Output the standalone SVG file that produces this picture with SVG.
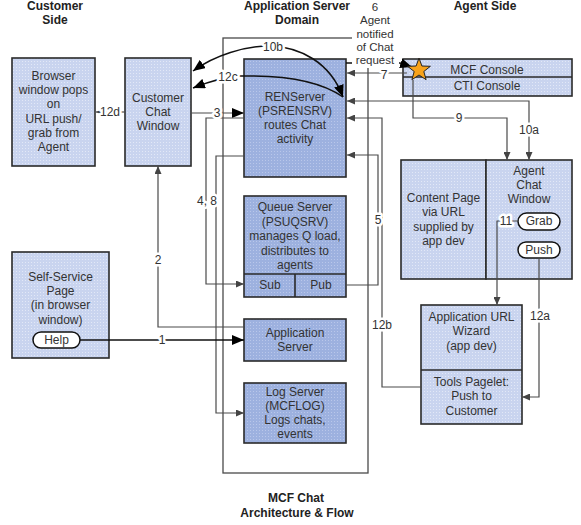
<svg xmlns="http://www.w3.org/2000/svg" width="581" height="525" viewBox="0 0 581 525">
<style>
text{font-family:"Liberation Sans",Arial,sans-serif;font-size:12px;fill:#333;text-anchor:middle}
.ttl{font-weight:bold;fill:#222}
.lt{fill:url(#pl);stroke:#2a2a2a;stroke-width:1.6}
.dk{fill:url(#pd);stroke:#2a2a2a;stroke-width:1.6}
.pill{fill:#fff;stroke:#111;stroke-width:1.5}
.ln{fill:none;stroke:#4a4a4a;stroke-width:1.2}
.bl{fill:none;stroke:#111;stroke-width:1.5}
.lab{stroke:#fff;stroke-width:5;stroke-linejoin:round;paint-order:stroke}
.frame{fill:none;stroke:#4a4a4a;stroke-width:1.3}
</style>
<defs>
<pattern id="pl" width="3" height="3" patternUnits="userSpaceOnUse"><rect width="3" height="3" fill="#c9d4ef"/><rect x="1" y="1" width="1" height="1" fill="#e2e8f7"/></pattern>
<pattern id="pd" width="3" height="3" patternUnits="userSpaceOnUse"><rect width="3" height="3" fill="#9db1df"/><rect x="1" y="1" width="1" height="1" fill="#b9c7ea"/></pattern>
<marker id="s" viewBox="0 0 8 7" refX="8" refY="3.5" markerWidth="8" markerHeight="7" orient="auto-start-reverse" markerUnits="userSpaceOnUse"><path d="M0,0 L8,3.5 L0,7 z" fill="#444"/></marker>
<marker id="b" viewBox="0 0 12 10" refX="12" refY="5" markerWidth="12" markerHeight="10" orient="auto-start-reverse" markerUnits="userSpaceOnUse"><path d="M0,0 L12,5 L0,10 z" fill="#000"/></marker>
</defs>

<rect x="0" y="0" width="581" height="525" fill="#fff"/>

<g id="titles">
<text class="ttl" x="55" y="10">Customer</text>
<text class="ttl" x="55" y="24">Side</text>
<text class="ttl" x="297" y="10">Application Server</text>
<text class="ttl" x="297" y="24">Domain</text>
<text class="ttl" x="485" y="10">Agent Side</text>
<text class="ttl" x="296" y="502">MCF Chat</text>
<text class="ttl" x="297" y="517">Architecture &amp; Flow</text>
</g>

<g id="domain-frame">
<rect class="frame" x="223" y="38" width="145" height="435"/>
</g>

<g id="browser-window">
<rect class="lt" x="12" y="58" width="83" height="108"/>
<text x="53.5" y="80">Browser<tspan x="53.5" dy="14.2">window pops</tspan><tspan x="53.5" dy="14.2">on</tspan><tspan x="53.5" dy="14.2">URL push/</tspan><tspan x="53.5" dy="14.2">grab from</tspan><tspan x="53.5" dy="14.2">Agent</tspan></text>
</g>

<g id="customer-chat-window">
<rect class="lt" x="125" y="58" width="66" height="108"/>
<text x="158" y="102">Customer<tspan x="158" dy="14.2">Chat</tspan><tspan x="158" dy="14.2">Window</tspan></text>
</g>

<g id="renserver">
<rect class="dk" x="244" y="59" width="102" height="118"/>
<text x="295" y="101">RENServer<tspan x="295" dy="14">(PSRENSRV)</tspan><tspan x="295" dy="14">routes Chat</tspan><tspan x="295" dy="14">activity</tspan></text>
</g>

<g id="queue-server">
<rect class="dk" x="244" y="196" width="102" height="101"/>
<path d="M244 274 H346 M295 274 V297" stroke="#2a2a2a" stroke-width="1.6"/>
<text x="295" y="211">Queue Server<tspan x="295" dy="14.5">(PSUQSRV)</tspan><tspan x="295" dy="14.5">manages Q load,</tspan><tspan x="295" dy="14.5">distributes to</tspan><tspan x="295" dy="14.5">agents</tspan></text>
<text x="270" y="289">Sub</text>
<text x="321" y="289">Pub</text>
</g>

<g id="application-server">
<rect class="dk" x="244" y="319" width="102" height="42"/>
<text x="295" y="337">Application<tspan x="295" dy="14.2">Server</tspan></text>
</g>

<g id="log-server">
<rect class="dk" x="244" y="383" width="102" height="60"/>
<text x="295" y="396">Log Server<tspan x="295" dy="14">(MCFLOG)</tspan><tspan x="295" dy="14">Logs chats,</tspan><tspan x="295" dy="14">events</tspan></text>
</g>

<g id="self-service-page">
<rect class="lt" x="12" y="252" width="97" height="106"/>
<text x="60.5" y="281">Self-Service<tspan x="60.5" dy="14.2">Page</tspan><tspan x="60.5" dy="14.2">(in browser</tspan><tspan x="60.5" dy="14.2">window)</tspan></text>
<rect class="pill" x="33" y="332" width="47" height="16" rx="8"/>
<text x="56.5" y="344">Help</text>
</g>

<g id="mcf-console">
<rect class="lt" x="403" y="59" width="169" height="37"/>
<path d="M403 77 H572" stroke="#2a2a2a" stroke-width="1.6"/>
<text x="487" y="74">MCF Console</text>
<text x="487" y="90">CTI Console</text>
</g>

<g id="content-page">
<rect class="lt" x="401" y="160" width="85" height="119"/>
<text x="443.5" y="202">Content Page<tspan x="443.5" dy="14.3">via URL</tspan><tspan x="443.5" dy="14.3">supplied by</tspan><tspan x="443.5" dy="14.3">app dev</tspan></text>
</g>

<g id="agent-chat-window">
<rect class="lt" x="486" y="160" width="86" height="119"/>
<text x="529" y="175">Agent<tspan x="529" dy="14.2">Chat</tspan><tspan x="529" dy="14.2">Window</tspan></text>
<rect class="pill" x="518" y="213" width="42" height="17" rx="8.5"/>
<text x="539" y="225">Grab</text>
<rect class="pill" x="518" y="242" width="42" height="16" rx="8"/>
<text x="539" y="254">Push</text>
</g>

<g id="app-url-wizard">
<rect class="lt" x="421" y="305" width="101" height="119"/>
<path d="M421 370 H522" stroke="#2a2a2a" stroke-width="1.6"/>
<text x="471.5" y="321">Application URL<tspan x="471.5" dy="14.4">Wizard</tspan><tspan x="471.5" dy="14.4">(app dev)</tspan></text>
<text x="471.5" y="386">Tools Pagelet:<tspan x="471.5" dy="14.4">Push to</tspan><tspan x="471.5" dy="14.4">Customer</tspan></text>
</g>

<g id="connectors">
<path class="ln" d="M125 112 H96" marker-end="url(#s)"/>
<path class="ln" d="M191 113 H244" marker-end="url(#b)"/>
<path class="ln" d="M244 118 H206 V284 H244" marker-end="url(#s)"/>
<path class="ln" d="M244 156 H216 V413 H244" marker-end="url(#s)"/>
<path class="ln" d="M244 327 H158 V166" marker-end="url(#s)"/>
<path class="bl" d="M80 340 H244" marker-end="url(#b)"/>
<path class="bl" d="M343 97 C330 62 300 47 270 46 C245 46 215 55 193 71" marker-start="url(#b)" marker-end="url(#b)"/>
<path class="bl" d="M343 97 C322 82 285 75 240 76 C222 77 208 82 193 88" marker-end="url(#b)"/>
<path class="bl" d="M346 63 H400 L412 67" marker-end="url(#b)"/>
<path class="ln" d="M407 73 H347" marker-end="url(#s)"/>
<path class="ln" d="M413 80 V118 H507 V160" marker-end="url(#s)"/>
<path class="ln" d="M529 160 V101 H347" marker-start="url(#s)" marker-end="url(#s)"/>
<path class="ln" d="M421 387 H382 V118 H347" marker-end="url(#s)"/>
<path class="ln" d="M346 285 H378 V155 H347" marker-end="url(#s)"/>
<path class="ln" d="M518 221 H497 V305" marker-end="url(#s)"/>
<path class="ln" d="M539 258 V397 H522" marker-end="url(#s)"/>
</g>

<g id="star">
<polygon points="419,58 421.9,66 430.4,66.3 423.8,71.5 426.1,79.7 419,75 411.9,79.7 414.2,71.5 407.6,66.3 416.1,66" fill="#f7a21b" stroke="#222" stroke-width="1"/>
</g>

<g id="connector-labels">
<rect x="352" y="0" width="47" height="68" fill="#fff"/>
<text x="375" y="10.8" style="font-size:11.5px">6<tspan x="375" dy="13.4">Agent</tspan><tspan x="375" dy="13.4">notified</tspan><tspan x="375" dy="13.4">of Chat</tspan><tspan x="375" dy="13.4">request</tspan></text>
<text class="lab" x="110" y="116">12d</text>
<text class="lab" x="217" y="117">3</text>
<text class="lab" x="207" y="205">4, 8</text>
<text class="lab" x="158" y="264">2</text>
<text class="lab" x="162" y="344">1</text>
<text class="lab" x="273" y="51">10b</text>
<text class="lab" x="228" y="81">12c</text>
<text class="lab" x="384" y="78.5">7</text>
<text class="lab" x="378" y="224">5</text>
<text class="lab" x="382" y="329">12b</text>
<text class="lab" x="459" y="122">9</text>
<text class="lab" x="529" y="134">10a</text>
<text class="lab" x="506" y="225">11</text>
<text class="lab" x="540" y="320">12a</text>
</g>
</svg>
